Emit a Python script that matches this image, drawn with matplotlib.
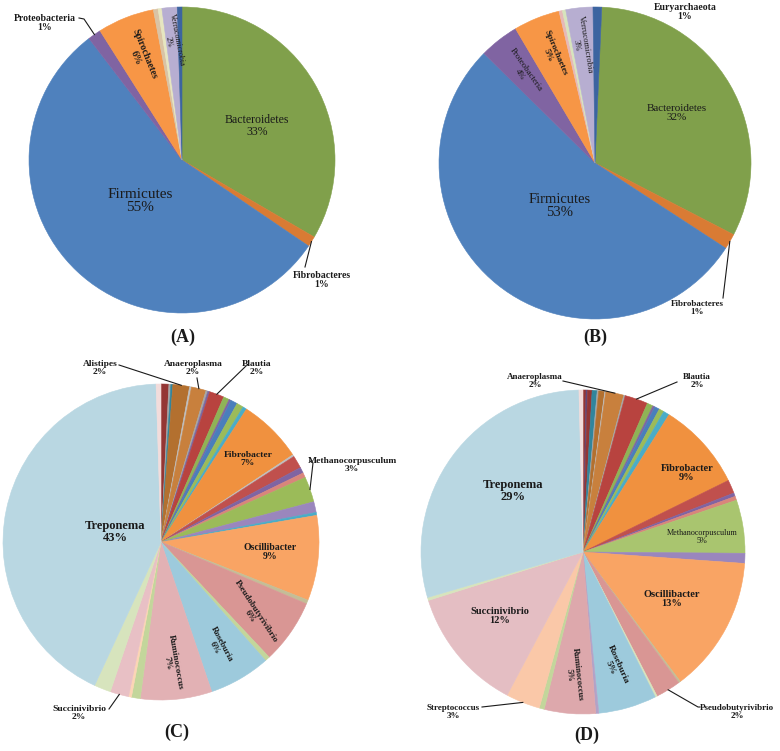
import numpy as np
import matplotlib.pyplot as plt

W, H = 780, 751
plt.rcParams['font.family'] = ['Liberation Serif', 'DejaVu Serif']

# (A) and (B): phylum level, same order in both panels
phyla = ['Bacteroidetes', 'Fibrobacteres', 'Firmicutes', 'Proteobacteria', 'Spirochaetes',
         'other1', 'other2', 'Verrucomicrobia', 'Euryarchaeota']
a_values = [33.4, 1.1, 55.1, 1.4, 6.0, 0.5, 0.4, 1.6, 0.5]
b_values = [31.9, 1.6, 53.2, 4.1, 4.8, 0.35, 0.35, 2.8, 0.9]
a_pct = ['33%', '1%', '55%', '1%', '6%', '', '', '2%', '']
b_pct = ['32%', '1%', '53%', '4%', '5%', '', '', '3%', '1%']
a_colors = ['#80A04B', '#D97B34', '#4F81BD', '#8064A2', '#F79646',
            '#D9C3A5', '#E6E6C0', '#B7AED1', '#3C64A0']
b_colors = ['#80A04B', '#D97B34', '#4F81BD', '#8064A2', '#F79646',
            '#E6B9B8', '#D7E4BD', '#B7AED1', '#3C64A0']

# (C) and (D): genus level
c_names = ['', '', '', 'Alistipes', '', 'Anaeroplasma', '', '', 'Blautia', '', '', '', '', '',
           'Fibrobacter', '', '', '', '', 'Methanocorpusculum', '', '', 'Oscillibacter', '',
           'Pseudobutyrivibrio', '', 'Roseburia', 'Ruminococcus', '', '', 'Succinivibrio', '',
           'Treponema', '']
c_values = [0.8, 0.2, 0.2, 1.7, 0.2, 1.5, 0.2, 0.2, 1.5, 0.6, 0.2, 0.7, 0.7, 0.4,
            6.6, 0.2, 1.3, 0.6, 0.5, 2.6, 1.1, 0.3, 8.7, 0.4,
            6.6, 0.5, 6.3, 7.3, 0.9, 0.3, 1.9, 1.7, 42.6, 0.5]
c_pct = ['', '', '', '2%', '', '2%', '', '', '2%', '', '', '', '', '',
         '7%', '', '', '', '', '3%', '', '', '9%', '',
         '6%', '', '6%', '7%', '', '', '2%', '', '43%', '']
c_colors = ['#943634', '#A6A6A6', '#31859C', '#B3702F', '#BFBFBF', '#C8803D', '#A6A6A6',
            '#7B66A0', '#B8433F', '#8FB356', '#8064A2', '#4A7EBB', '#9BBB59', '#4BACC6',
            '#F0913F', '#BFBFBF', '#C0504D', '#8064A2', '#D9857B', '#9BBB59', '#9A86BD',
            '#4BACC6', '#F9A464', '#C4BD97', '#D99694', '#C3D69B', '#9DCADC', '#E2B1B4',
            '#C3D69B', '#FCD5B5', '#E8C0C5', '#D7E4BD', '#B9D7E2', '#F2DCDB']

d_names = ['', '', '', '', '', '', '', 'Anaeroplasma', '', 'Blautia', '', '', '', '', '',
           'Fibrobacter', '', '', '', 'Methanocorpusculum', '', 'Oscillibacter', '',
           'Pseudobutyrivibrio', '', 'Roseburia', '', 'Ruminococcus', '', 'Streptococcus',
           'Succinivibrio', '', 'Treponema', '']
d_values = [0.3, 0.15, 0.45, 0.5, 0.15, 0.6, 0.1, 1.8, 0.15, 2.3, 0.6, 0.2, 0.5, 0.5, 0.6,
            8.8, 1.35, 0.35, 0.4, 5.3, 1.0, 13.6, 0.2,
            2.5, 0.2, 5.8, 0.3, 5.1, 0.5, 3.4,
            12.4, 0.3, 29.1, 0.4]
d_pct = ['', '', '', '', '', '', '', '2%', '', '2%', '', '', '', '', '',
         '9%', '', '', '', '5%', '', '13%', '',
         '2%', '', '5%', '', '5%', '', '3%',
         '12%', '', '29%', '']
d_colors = ['#943634', '#5F497A', '#943634', '#31859C', '#A6A6A6', '#B3702F', '#BFBFBF',
            '#C8803D', '#A6A6A6', '#B8433F', '#8FB356', '#8064A2', '#4A7EBB', '#9BBB59',
            '#4BACC6', '#F0913F', '#C0504D', '#8064A2', '#D9857B', '#A9C56F', '#9A86BD',
            '#F9A464', '#C4BD97', '#D99694', '#D7E4BD', '#9DCADC', '#B3A2C7', '#DDA8AC',
            '#C3D69B', '#FAC8A8', '#E4BEC3', '#D7E4BD', '#B9D7E2', '#F2DCDB']

fig = plt.figure(figsize=(W / 100, H / 100), dpi=100)
ax = fig.add_axes([0, 0, 1, 1])


def draw_pie(values, colors, cx, cy, r, start=90):
    # excel style: first slice at 12 o'clock, going clockwise
    wedges, _ = ax.pie(values, colors=colors, startangle=start, counterclock=False,
                       center=(cx, H - cy), radius=r, wedgeprops=dict(linewidth=0.4))
    for w in wedges:
        w.set_edgecolor(w.get_facecolor())
    return wedges


def edge_xy(w, frac=1.0):
    ang = np.deg2rad((w.theta1 + w.theta2) / 2)
    return (w.center[0] + frac * w.r * np.cos(ang), w.center[1] + frac * w.r * np.sin(ang))


def label(x, y, s, size, weight='normal', rot=0):
    ax.text(x, H - y, s, fontsize=size, fontweight=weight, rotation=rot, ha='center',
            va='center', rotation_mode='anchor', linespacing=1.05, color='#1a1a1a', zorder=5)


def leader(w, pts):
    # line from the label side to the middle of the slice edge
    ex, ey = edge_xy(w)
    xs = [p[0] for p in pts] + [ex]
    ys = [H - p[1] for p in pts] + [ey]
    ax.plot(xs, ys, color='#1a1a1a', lw=0.8, zorder=4)


def txt(names, pct, i):
    return names[i] + '\n' + pct[i]


# ---- (A)
wa = draw_pie(a_values, a_colors, 182, 160, 153)
label(257, 126, txt(phyla, a_pct, 0), 8.5)
label(140, 201, txt(phyla, a_pct, 2), 11)
label(140, 56, txt(phyla, a_pct, 4), 7, 'bold', -68)
label(173, 41, txt(phyla, a_pct, 7), 5.8, 'normal', -79)
label(45, 23, txt(phyla, a_pct, 3), 7, 'bold')
leader(wa[3], [(79, 18), (84, 19)])
label(322, 280, txt(phyla, a_pct, 1), 7, 'bold')
leader(wa[1], [(305, 267)])
label(183, 337, '(A)', 13, 'bold')

# ---- (B)
wb = draw_pie(b_values, b_colors, 595, 163, 156, start=87.5)
label(677, 113, txt(phyla, b_pct, 0), 8)
label(560, 206, txt(phyla, b_pct, 2), 10.5)
label(523, 72, txt(phyla, b_pct, 3), 6.3, 'normal', -55)
label(552, 54, txt(phyla, b_pct, 4), 6.5, 'bold', -67)
label(581, 45, txt(phyla, b_pct, 7), 6.2, 'normal', -81)
label(685, 12, txt(phyla, b_pct, 8), 7, 'bold')
label(697, 308, txt(phyla, b_pct, 1), 6.5, 'bold')
leader(wb[1], [(723, 298)])
label(595, 337, '(B)', 13, 'bold')

# ---- (C)
wc = draw_pie(c_values, c_colors, 161, 542, 158)
label(115, 532, txt(c_names, c_pct, 32), 9, 'bold')
label(248, 459, txt(c_names, c_pct, 14), 6.8, 'bold')
label(270, 552, txt(c_names, c_pct, 22), 7, 'bold')
label(253, 614, txt(c_names, c_pct, 24), 6.3, 'bold', -57)
label(218, 646, txt(c_names, c_pct, 26), 6.4, 'bold', -62)
label(172, 663, txt(c_names, c_pct, 27), 6.5, 'bold', -80)
label(100, 368, txt(c_names, c_pct, 3), 6.8, 'bold')
leader(wc[3], [(119, 365)])
label(193, 368, txt(c_names, c_pct, 5), 6.8, 'bold')
leader(wc[5], [(197, 378)])
label(257, 368, txt(c_names, c_pct, 8), 6.8, 'bold')
leader(wc[8], [(246, 366)])
label(352, 465, txt(c_names, c_pct, 19), 6.8, 'bold')
leader(wc[19], [(310, 461), (313, 463)])
label(79, 713, txt(c_names, c_pct, 30), 6.8, 'bold')
leader(wc[30], [(109, 709)])
label(177, 732, '(C)', 13, 'bold')

# ---- (D)
wd = draw_pie(d_values, d_colors, 583, 552, 162)
label(513, 491, txt(d_names, d_pct, 32), 9, 'bold')
label(687, 473, txt(d_names, d_pct, 15), 7.5, 'bold')
label(702, 537, txt(d_names, d_pct, 19), 5.9)
label(672, 599, txt(d_names, d_pct, 21), 7.5, 'bold')
label(500, 616, txt(d_names, d_pct, 30), 7.5, 'bold')
label(614, 666, txt(d_names, d_pct, 25), 6.8, 'bold', -66)
label(573, 675, txt(d_names, d_pct, 27), 6.2, 'bold', -84)
label(535, 381, txt(d_names, d_pct, 7), 6.5, 'bold')
leader(wd[7], [(563, 381)])
label(697, 381, txt(d_names, d_pct, 9), 6.5, 'bold')
leader(wd[9], [(677, 382)])
label(453, 712, txt(d_names, d_pct, 29), 6.5, 'bold')
leader(wd[29], [(482, 707)])
label(737, 712, txt(d_names, d_pct, 23), 6.5, 'bold')
leader(wd[23], [(700, 707), (698, 707)])
label(587, 735, '(D)', 13, 'bold')

ax.set_xlim(0, W)
ax.set_ylim(0, H)
ax.set_aspect('equal')
ax.axis('off')

plt.savefig('out.png', dpi=100)
